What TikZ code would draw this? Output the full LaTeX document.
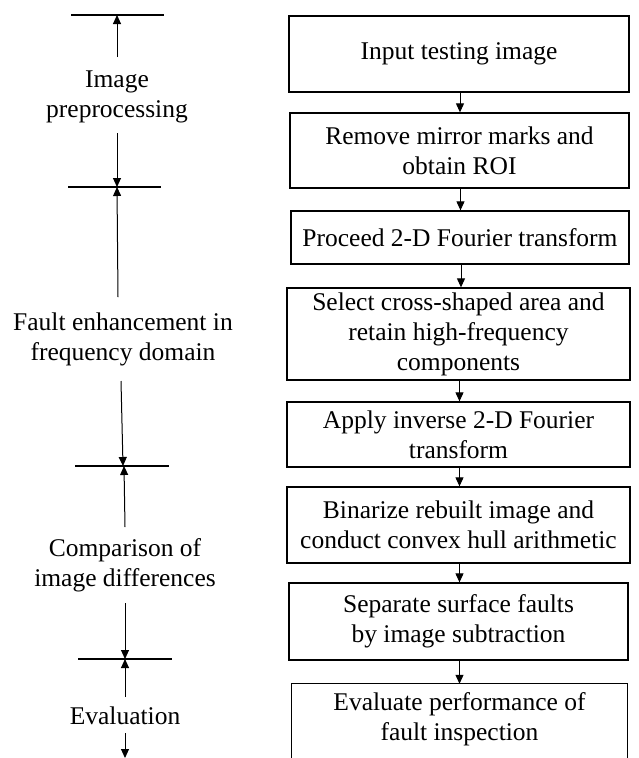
\documentclass[tikz,border=0pt]{standalone}
\usepackage{fontspec}
\setmainfont{Liberation Serif}
\newfontfamily\tnr{Liberation Serif}
\usetikzlibrary{arrows.meta}
\begin{document}
\begin{tikzpicture}[x=1pt,y=-1pt,
  txt/.style={align=center, inner sep=0pt, font=\tnr\fontsize{25.5}{30}\selectfont},
  box/.style={txt, draw, line width=1.3pt},
  bar/.style={line width=2.8pt},
  conn/.style={line width=1pt, -{Triangle[length=9pt,width=8pt]}}]
\useasboundingbox (0,0) rectangle (638,758);
\clip (0,0) rectangle (638,758);
\fill[white] (0,0) rectangle (638,758);
% right column
\node[box, minimum width=340pt, minimum height=76pt] (b1) at (459,54) {Input testing image};
\node[box, minimum width=339pt, minimum height=75pt] (b2) at (459.5,150.5) {Remove mirror marks and\\obtain ROI};
\node[box, minimum width=338pt, minimum height=53pt] (b3) at (460,237.5) {Proceed 2-D Fourier transform};
\node[box, minimum width=343pt, minimum height=92pt] (b4) at (458.5,334) {Select cross-shaped area and\\retain high-frequency\\components};
\node[box, minimum width=343pt, minimum height=65pt] (b5) at (458.5,434.5) {Apply inverse 2-D Fourier\\transform};
\node[box, minimum width=343pt, minimum height=76pt] (b6) at (458.5,525) {Binarize rebuilt image and\\conduct convex hull arithmetic};
\node[box, minimum width=339pt, minimum height=77pt] (b7) at (458.5,621.5) {Separate surface faults\\by image subtraction};
\node[txt, minimum width=335pt, minimum height=70pt] (b8) at (459.5,719) {Evaluate performance of\\fault inspection};
\draw[line width=1.3pt] ([yshift=-30pt]b8.south west) -- (b8.north west) -- (b8.north east) -- ([yshift=-30pt]b8.south east);
\foreach \a/\b in {b1/b2,b2/b3,b3/b4,b4/b5,b5/b6,b6/b7,b7/b8}
  \draw[conn] ([xshift=1pt]\a.south) -- ([xshift=1pt]\a.south |- \b.north);
% left column bars
\coordinate (k1w) at (71,15);  \coordinate (k1e) at (164,15);
\coordinate (k2w) at (68,187); \coordinate (k2e) at (161,187);
\coordinate (k3w) at (75,466); \coordinate (k3e) at (169,466);
\coordinate (k4w) at (78,659); \coordinate (k4e) at (172,659);
\foreach \k in {1,2,3,4} \draw[bar] (k\k w) -- (k\k e);
% labels
\node[txt] (l1) at (117,97) {Image\\preprocessing};
\node[txt] (l2) at (123,339) {Fault enhancement in\\frequency domain};
\node[txt] (l3) at (125,565) {Comparison of\\image differences};
\node[txt] (l4) at (125,716) {Evaluation};
% arrow start points
\coordinate (s1u) at (117,57);  \coordinate (e1u) at (117,15);
\coordinate (s1d) at (117,133); \coordinate (e1d) at (117,187);
\coordinate (s2u) at (118,297); \coordinate (e2u) at (117,187);
\coordinate (s2d) at (121,381); \coordinate (e2d) at (123,466);
\coordinate (s3u) at (125,527); \coordinate (e3u) at (124,466);
\coordinate (s3d) at (125,603); \coordinate (e3d) at (125,659);
\coordinate (s4u) at (125,697); \coordinate (e4u) at (125,659);
\coordinate (s4d) at (125,733); \coordinate (e4d) at (125,758);
\foreach \p in {1u,1d,2u,2d,3u,3d,4u,4d} \draw[conn] (s\p) -- (e\p);
\end{tikzpicture}
\end{document}
